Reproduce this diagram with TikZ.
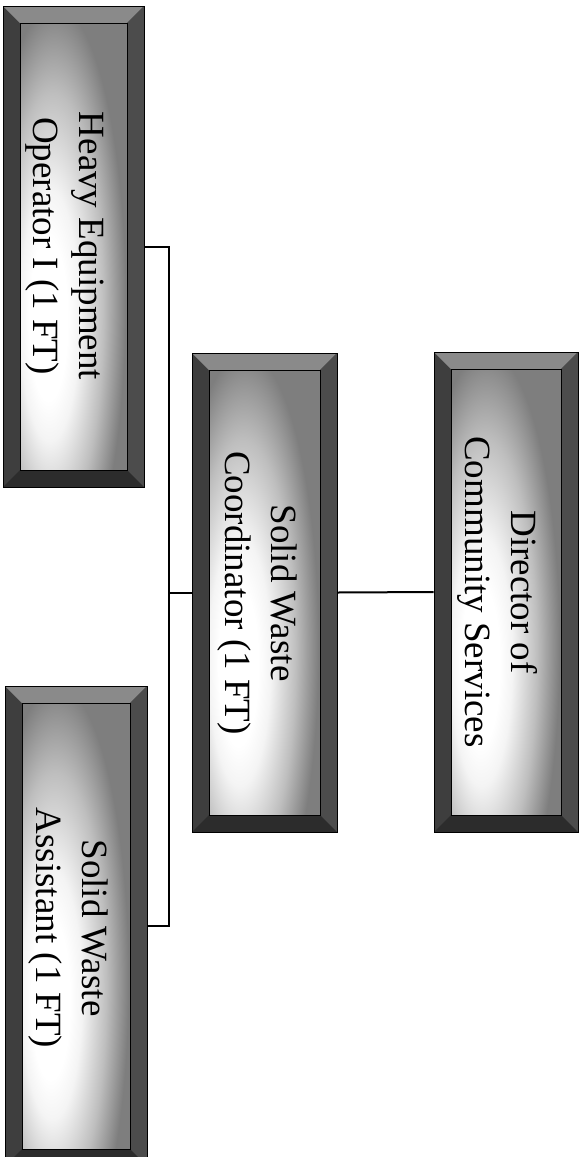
\documentclass[tikz,border=0pt]{standalone}
\usepackage{fontspec}
\setmainfont{Liberation Serif}
\usetikzlibrary{calc}
\definecolor{bevtopc}{HTML}{8A8A8A}
\definecolor{bevleftc}{HTML}{3E3E3E}
\definecolor{bevrightc}{HTML}{4C4C4C}
\definecolor{bevbotc}{HTML}{2C2C2C}
\definecolor{panA}{HTML}{FFFFFF}
\definecolor{panB}{HTML}{F4F4F4}
\definecolor{panC}{HTML}{BEBEBE}
\definecolor{panD}{HTML}{7E7E7E}
\pgfdeclareradialshading{panelrad}{\pgfpoint{-13bp}{-9bp}}{color(0bp)=(panA); color(9bp)=(panA); color(14bp)=(panB); color(24bp)=(panC); color(33bp)=(panD); color(100bp)=(panD)}
\def\bevw{17pt}
\tikzset{
  bevbox/.style={draw=black, line width=0.8pt, inner sep=0pt, fill=bevleftc,
    path picture={
      \fill[bevtopc] (path picture bounding box.north west) -- (path picture bounding box.north east)
        -- ([xshift=-\bevw,yshift=-\bevw]path picture bounding box.north east)
        -- ([xshift=\bevw,yshift=-\bevw]path picture bounding box.north west) -- cycle;
      \fill[bevrightc] (path picture bounding box.north east) -- (path picture bounding box.south east)
        -- ([xshift=-\bevw,yshift=\bevw]path picture bounding box.south east)
        -- ([xshift=-\bevw,yshift=-\bevw]path picture bounding box.north east) -- cycle;
      \fill[bevbotc] (path picture bounding box.south west) -- (path picture bounding box.south east)
        -- ([xshift=-\bevw,yshift=\bevw]path picture bounding box.south east)
        -- ([xshift=\bevw,yshift=\bevw]path picture bounding box.south west) -- cycle;
      \shade[shading=panelrad]
        ([xshift=\bevw,yshift=-\bevw]path picture bounding box.north west) rectangle
        ([xshift=-\bevw,yshift=\bevw]path picture bounding box.south east);
      \draw[black, line width=0.6pt]
        ([xshift=\bevw,yshift=-\bevw]path picture bounding box.north west) rectangle
        ([xshift=-\bevw,yshift=\bevw]path picture bounding box.south east);
    }},
  boxtext/.style={rotate=-90, align=center, inner sep=0pt, text=black,
    font=\fontsize{37pt}{46pt}\selectfont},
  conn/.style={draw=black, line width=2pt}
}
\begin{document}
\begin{tikzpicture}[x=1pt, y=-1pt]
\useasboundingbox (0,0) rectangle (584,1157);
\clip (0,0) rectangle (584,1157);
\fill[white] (0,0) rectangle (584,1157);

\node[bevbox, minimum width=141pt, minimum height=481pt] (heavyF) at (73.5,246.5) {};
\node[bevbox, minimum width=145pt, minimum height=479pt] (coordF) at (264.5,592.5) {};
\node[bevbox, minimum width=144pt, minimum height=480pt] (dirF) at (506,592) {};
\node[bevbox, minimum width=142pt, minimum height=480pt] (assistF) at (76,926) {};

\node[boxtext] (heavy) at (65,246) {Heavy Equipment\\Operator I (1 FT)};
\node[boxtext] (coord) at (257,593) {Solid Waste\\Coordinator (1 FT)};
\node[boxtext] (dir) at (498,592) {Director of\\Community Services};
\node[boxtext] (assist) at (68,928) {Solid Waste\\Assistant (1 FT)};

\coordinate (bus) at (169,592.5);
\draw[conn] (heavyF.east) -| (bus) |- (assistF.east);
\draw[conn] (coordF.west) -- (bus);
\draw[conn] (coordF.east) -- (dirF.west);
\end{tikzpicture}
\end{document}
